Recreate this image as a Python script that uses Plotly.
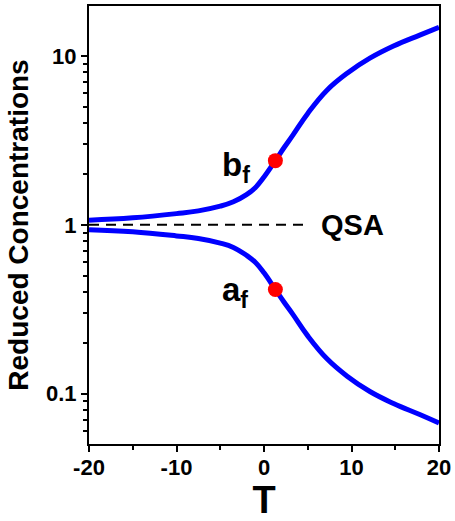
import plotly.graph_objects as go

# Data
T = [-20, -15, -10, -7.5, -5, -3.5, -2, -1, 0, 1.3, 2.3, 3.3, 5, 7.2, 9.5, 12.1, 14.8, 17.8, 20]
b_f = [1.066, 1.10, 1.165, 1.21, 1.29, 1.37, 1.51, 1.66, 1.92, 2.40, 2.87, 3.40, 4.57, 6.27, 7.90, 9.70, 11.45, 13.3, 14.8]
a_f = [0.935, 0.91, 0.86, 0.83, 0.78, 0.735, 0.66, 0.60, 0.52, 0.414, 0.348, 0.295, 0.22, 0.161, 0.127, 0.103, 0.0875, 0.0752, 0.067]
T_dot = [1.3]
b_dot = [2.4]
a_dot = [0.414]
qsa_T = [-20, 5]
qsa_val = [1, 1]

FONT = "Liberation Sans"

fig = go.Figure()
fig.add_trace(go.Scatter(x=qsa_T, y=qsa_val, mode="lines",
                         line=dict(color="black", width=2, dash="10px,7px"), showlegend=False))
fig.add_trace(go.Scatter(x=T, y=b_f, mode="lines", line=dict(color="#0000FF", width=5, shape="spline", smoothing=1.2),
                         showlegend=False))
fig.add_trace(go.Scatter(x=T, y=a_f, mode="lines", line=dict(color="#0000FF", width=5, shape="spline", smoothing=1.2),
                         showlegend=False))
fig.add_trace(go.Scatter(x=T_dot + T_dot, y=b_dot + a_dot, mode="markers",
                         marker=dict(color="#FF0000", size=15), showlegend=False))

fig.add_annotation(x=-5.0, y=0.345, xref="x", yref="y", text="<b>b<sub>f</sub></b>", showarrow=False,
                   xanchor="left", yanchor="middle", font=dict(family=FONT, size=33, color="black"))
fig.add_annotation(x=-5.0, y=-0.40, xref="x", yref="y", text="<b>a<sub>f</sub></b>", showarrow=False,
                   xanchor="left", yanchor="middle", font=dict(family=FONT, size=33, color="black"))
fig.add_annotation(x=6.3, y=0, xref="x", yref="y", text="<b>QSA</b>", showarrow=False,
                   xanchor="left", yanchor="middle", font=dict(family=FONT, size=29, color="black"))

fig.update_layout(
    width=455, height=521,
    margin=dict(l=89, r=12, t=4, b=76),
    plot_bgcolor="white", paper_bgcolor="white",
    font=dict(family=FONT, color="black"),
)
fig.update_xaxes(
    range=[-20, 20], tickvals=[-20, -10, 0, 10, 20], ticktext=["<b>-20</b>", "<b>-10</b>", "<b>0</b>", "<b>10</b>", "<b>20</b>"],
    ticks="outside", ticklen=6, tickwidth=2, tickcolor="black", ticklabeloverflow="allow",
    ticklabelstandoff=-3,
    minor=dict(tickvals=[-15, -5, 5, 15], ticks="outside", ticklen=4, tickwidth=2, tickcolor="black"),
    showline=True, linewidth=2, linecolor="black", mirror=True, showgrid=False, zeroline=False,
    tickfont=dict(family=FONT, size=22, color="black"),
    title=dict(text="<b>T</b>", font=dict(family=FONT, size=38, color="black"), standoff=10),
)
fig.update_yaxes(
    type="log", range=[-1.298, 1.296],
    tickvals=[0.1, 1, 10], ticktext=["<b>0.1</b>", "<b>1</b>", "<b>10</b>"],
    ticks="outside", ticklen=6, tickwidth=2, tickcolor="black",
    minor=dict(dtick="D1", ticks="outside", ticklen=4, tickwidth=2, tickcolor="black", showgrid=False),
    showline=True, linewidth=2, linecolor="black", mirror=True, showgrid=False, zeroline=False,
    tickfont=dict(family=FONT, size=22, color="black"),
    title=dict(text="<b>Reduced Concentrations</b>", font=dict(family=FONT, size=28, color="black"), standoff=9),
)

fig.write_html("out.html")
